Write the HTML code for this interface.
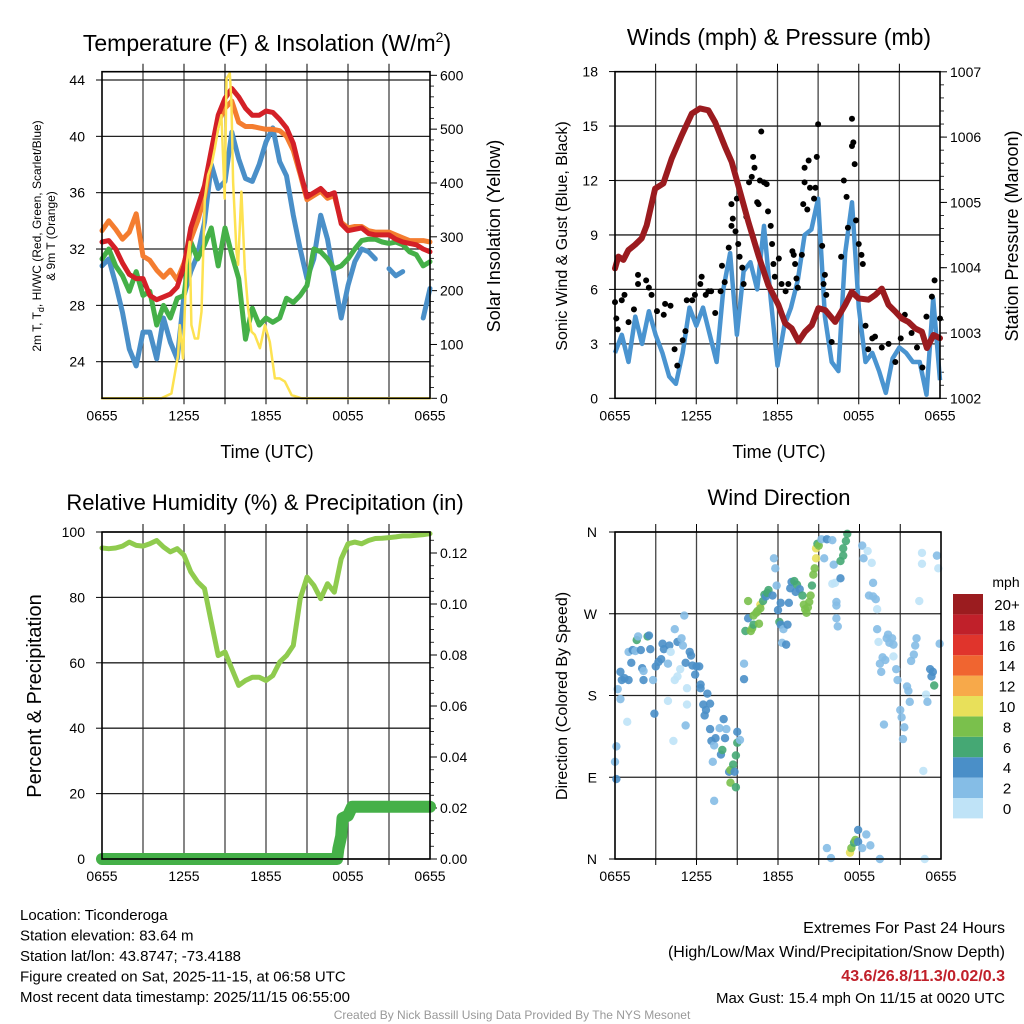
<!DOCTYPE html>
<html><head><meta charset="utf-8"><style>
html,body{margin:0;padding:0;background:#fff;}
svg{display:block;font-family:"Liberation Sans",sans-serif;}
</style></head><body>
<svg id="c" width="1024" height="1024" viewBox="0 0 1024 1024" xmlns="http://www.w3.org/2000/svg"></svg>
<script>
// ===== Data =====
const tickHours=[0,6,12,18,24];
const tickLabels=["0655","1255","1855","0055","0655"];
const halfHours=[0,0.5,1,1.5,2,2.5,3,3.5,4,4.5,5,5.5,6,6.5,7,7.5,8,8.5,9,9.5,10,10.5,11,11.5,12,12.5,13,13.5,14,14.5,15,15.5,16,16.5,17,17.5,18,18.5,19,19.5,20,20.5,21,21.5,22,22.5,23,23.5,24];
const tempRed=[32.5,32.6,32.0,31.0,30.2,29.9,29.9,28.7,28.4,28.6,28.8,29.3,30.8,33.5,35.0,36.5,39.0,41.5,42.7,43.4,42.8,42.0,41.5,41.5,41.8,41.7,41.2,40.6,39.5,37.5,35.7,36.0,36.3,35.8,36.0,33.8,33.3,33.4,33.5,33.1,33.0,33.0,33.0,32.7,32.5,32.4,32.3,32.0,31.8];
const tempOrange=[33.3,34.0,33.4,32.7,33.2,34.5,31.5,31.2,30.5,30.0,30.5,29.8,31.0,32.7,34.0,35.7,38.5,41.0,42.0,42.5,41.0,40.7,40.7,40.6,40.5,40.5,40.4,40.0,39.0,37.3,35.5,35.8,36.1,35.6,35.8,33.9,33.5,33.6,33.6,33.3,33.2,33.2,33.2,33.0,32.8,32.6,32.6,32.6,32.5];
const tempGreen=[31.3,32.0,30.8,30.1,29.0,30.4,28.7,29.0,26.6,28.0,27.1,28.5,28.7,32.5,31.3,32.3,33.5,30.8,33.5,31.6,29.9,25.6,27.8,26.6,27.1,26.8,27.1,28.5,28.2,28.7,29.4,32.0,31.8,31.3,30.6,30.8,31.3,32.0,32.6,32.7,32.7,32.5,32.4,32.5,32.3,31.8,31.6,30.8,31.1];
const tempBlue=[30.8,31.3,29.5,27.5,24.9,23.7,26.1,26.1,24.2,27.1,25.4,24.2,28.7,30.4,31.6,33.9,38.0,36.3,36.8,40.3,38.4,37.0,36.8,38.0,39.6,40.6,38.2,37.2,34.4,32.0,29.9,31.3,34.4,32.7,29.9,27.1,29.4,31.1,32.0,31.8,31.3,null,30.6,30.1,30.4,null,null,27.1,29.2];
const solarHours=[0,4.35,5.08,5.57,5.69,5.93,6.18,6.42,6.54,6.79,7.03,7.28,7.52,7.76,8.01,8.25,8.5,8.74,8.98,9.11,9.35,9.47,9.59,9.84,9.96,10.2,10.45,10.69,10.94,11.18,11.55,11.92,12.28,12.65,13.01,13.38,13.87,14.6,24];
const solarValues=[0,0,9,80,136,74,248,291,136,111,111,161,371,415,433,464,501,526,371,594,604,551,402,272,248,384,241,167,124,118,93,136,105,37,37,31,6,0,0];
const windSpeed=[2.5,3.5,2.0,4.5,3.0,4.8,3.5,2.5,1.2,0.8,2.5,5.0,4.0,5.0,3.5,2.0,6.0,8.0,3.5,7.0,7.5,6.0,9.5,5.5,1.8,4.0,5.0,6.5,9.0,9.3,11.0,4.5,2.0,1.5,8.0,10.8,5.0,2.0,2.5,1.5,0.3,2.2,2.8,2.5,2.0,2.0,0.2,5.5,1.0];
const gustHours=[0,0.1,0.2,0.5,0.7,1.0,1.4,1.7,1.7,2.3,2.5,2.7,3.1,3.6,3.7,4.1,4.4,4.6,5.0,5.2,5.3,5.7,5.9,6.3,6.4,6.7,6.9,7.1,7.4,7.8,7.9,8.1,8.4,8.6,8.6,8.7,8.9,9.0,9.1,9.2,9.4,9.5,9.7,9.9,10.1,10.2,10.3,10.5,10.6,10.7,10.8,11.0,11.2,11.3,11.5,11.6,11.7,11.8,12.1,12.3,12.6,12.8,13.1,13.2,13.3,13.4,13.5,13.8,13.9,14.0,14.0,14.2,14.3,14.4,14.7,14.8,14.9,15.0,15.3,15.4,15.5,15.6,16.0,16.7,16.9,17.1,17.2,17.5,17.5,17.6,17.7,17.8,18.0,18.2,18.3,18.5,18.7,19.0,19.2,19.7,20.2,20.7,21.1,21.4,21.9,22.3,22.7,23.0,23.4,23.6,24.0];
const gustValues=[5.3,4.4,3.8,5.4,5.7,4.2,4.9,6.3,6.8,6.5,6.1,5.7,4.8,4.6,5.2,5.1,2.7,1.8,3.2,3.7,5.4,5.4,5.7,6.3,6.7,5.7,5.9,5.9,4.7,5.9,7.3,6.4,8.3,9.5,10.7,9.9,9.2,11.0,8.5,7.8,7.2,6.3,10.0,11.9,12.2,13.3,12.7,10.8,10.7,12.0,14.7,11.9,11.8,10.3,9.5,8.5,7.4,6.7,7.7,6.3,5.9,6.3,8.1,7.9,7.4,6.6,6.1,7.9,10.7,12.7,11.9,10.4,13.1,11.6,11.0,11.6,13.3,15.1,8.4,6.3,6.8,5.7,3.1,7.8,12.0,11.1,9.4,13.9,15.4,14.1,12.9,9.8,8.5,7.9,7.4,4.0,2.7,3.3,3.4,2.8,3.0,2.0,3.3,4.6,3.6,2.8,1.7,4.5,5.6,6.5,4.4];
const pressHours=[0,0.25,0.62,0.99,1.48,1.97,2.34,2.96,3.57,4.19,4.93,5.67,6.28,6.9,7.39,8.13,8.62,9.24,9.85,10.59,11.33,12.07,12.56,13.05,13.55,14.04,14.53,15.02,15.52,16.26,17.0,17.49,17.98,18.72,19.21,19.7,20.2,20.69,21.18,21.67,22.17,22.66,23.03,23.52,24.0];
const pressValues=[1003.99,1004.17,1004.12,1004.27,1004.35,1004.45,1004.65,1005.21,1005.29,1005.67,1006.03,1006.36,1006.44,1006.41,1006.23,1005.85,1005.62,1005.16,1004.70,1004.19,1003.73,1003.43,1003.15,1003.07,1002.87,1003.02,1003.12,1003.38,1003.35,1003.17,1003.43,1003.63,1003.53,1003.51,1003.58,1003.68,1003.43,1003.33,1003.22,1003.17,1003.07,1003.02,1002.77,1002.97,1002.92];
const rhValues=[95.1,94.9,95.1,95.7,96.9,95.9,95.7,96.4,97.4,95.4,93.9,94.9,92.9,87.8,84.7,82.7,72.4,62.2,63.3,58.2,53.1,54.6,55.6,55.6,54.6,56.1,60.2,62.2,65.3,79.6,86.2,83.7,79.6,84.2,81.6,91.8,96.4,96.9,96.4,97.4,98.0,98.1,98.3,98.5,98.8,98.8,99.0,99.2,99.5];
const precipHours=[0,17.2,17.3,17.5,17.6,18.0,18.3,24];
const precipValues=[0,0,0.004,0.009,0.016,0.017,0.0205,0.0205];
const dirHours=[0.0,0.1,0.1,0.2,0.4,0.4,0.5,0.7,0.9,1.0,1.0,1.2,1.3,1.5,1.6,1.7,1.9,2.0,2.1,2.1,2.4,2.5,2.6,2.8,2.9,3.0,3.2,3.4,3.5,3.6,3.9,3.9,4.0,4.1,4.3,4.4,4.4,4.6,4.6,4.8,4.9,5.0,5.1,5.2,5.2,5.3,5.3,5.5,5.6,5.7,5.9,6.0,6.2,6.3,6.3,6.5,6.6,6.7,6.8,7.0,7.0,7.1,7.2,7.3,7.4,7.7,7.8,7.9,8.0,8.1,8.2,8.4,8.5,8.5,8.7,8.8,8.9,8.9,9.0,9.0,9.2,7.3,9.5,9.5,9.6,9.8,9.8,10.0,10.1,10.2,10.2,10.4,10.5,10.6,10.7,10.7,10.9,11.0,11.1,11.2,11.3,11.6,11.7,11.8,11.9,12.0,12.1,12.2,12.2,12.3,12.4,12.6,12.7,12.8,12.9,13.0,13.2,13.3,13.4,13.6,13.8,13.9,14.0,14.1,14.2,14.3,14.4,14.5,14.6,14.7,14.8,14.8,14.9,15.0,15.2,15.4,15.6,16.0,16.0,16.1,16.2,16.3,16.3,16.3,16.4,16.6,16.6,16.8,16.8,17.0,17.1,18.2,18.3,18.6,18.9,19.0,18.7,19.0,19.2,19.3,19.3,19.4,19.5,19.6,19.7,19.9,20.0,20.1,20.2,20.4,20.5,20.5,20.7,20.8,21.0,21.1,21.3,21.2,21.5,21.6,21.7,21.8,22.0,22.1,22.2,22.4,22.6,22.6,22.7,22.9,23.0,23.2,23.3,23.4,23.5,23.7,23.8,23.9,19.8,15.6,15.9,17.3,17.4,17.6,17.7,17.9,17.9,18.2,18.5,18.8,19.5,22.8];
const dirDegrees=[107,124,88,187,176,206,197,199,151,228,197,216,230,229,241,245,230,210,197,207,245,246,231,197,160,212,217,220,237,231,174,215,235,228,130,253,197,201,239,209,243,235,268,147,216,188,170,228,224,213,203,212,212,192,188,170,158,164,182,171,143,130,107,125,133,144,115,120,154,133,143,96,84,98,104,96,79,114,128,140,131,64,215,198,251,284,265,251,254,258,268,271,273,259,280,276,284,291,289,293,296,290,331,320,301,274,261,282,258,238,253,236,258,282,298,305,306,294,302,297,290,280,275,271,277,283,290,301,313,320,331,342,347,345,352,331,352,351,303,324,304,283,279,265,256,309,328,334,342,350,358,345,331,339,326,304,290,289,286,275,253,239,215,206,222,219,243,247,238,243,236,223,209,197,164,156,145,132,190,185,173,218,225,235,243,284,337,325,97,181,173,209,201,206,191,334,320,237,148,12,1,7,12,18,21,32,19,12,27,15,0,0];
const dirSpeeds=[3,3,5,3,3,5,5,5,1,3,5,5,5,3,7,3,5,5,5,3,7,5,5,3,5,5,5,5,5,5,1,3,5,1,1,3,1,1,5,1,3,3,3,3,5,1,1,5,5,5,5,5,5,5,5,5,5,5,5,5,5,5,3,3,5,3,5,7,5,5,3,5,9,9,7,5,7,7,7,5,3,3,3,5,7,9,5,9,9,7,9,9,9,9,11,9,7,7,5,7,7,5,3,3,3,5,7,5,5,3,3,5,5,5,5,5,7,5,7,5,7,9,9,9,9,9,9,7,9,9,11,11,7,9,3,3,5,3,1,3,1,3,3,3,3,5,7,7,7,7,7,3,3,1,1,3,3,3,3,1,3,1,3,3,3,3,3,3,3,3,3,1,3,3,3,3,3,3,3,3,3,3,3,3,3,1,1,1,1,1,3,5,5,5,7,3,1,3,3,3,3,11,9,7,9,5,5,3,3,3,3,1];
const speedBins=["0","2","4","6","8","10","12","14","16","18","20+"];
const speedColors=["#bfe3f7","#85bde6","#4a8fc8","#45a874","#7ac04c","#e8e05a","#f7a94a","#f06530","#e0342c","#c0202a","#9b1c1f"];

// ===== helpers =====
const NS="http://www.w3.org/2000/svg";
const svg=document.getElementById('c');
function mk(tag,attrs,parent){const e=document.createElementNS(NS,tag);for(const k in attrs)e.setAttribute(k,attrs[k]);(parent||svg).appendChild(e);return e;}
function txt(s,x,y,size,anchor,parent,extra){const t=mk('text',Object.assign({x:x,y:y,'font-size':size,'text-anchor':anchor||'middle',fill:'#000'},extra||{}),parent);t.textContent=s;return t;}
function poly(xs,ys,parent,style){let d='',pen=false;for(let i=0;i<xs.length;i++){if(ys[i]===null||ys[i]===undefined){pen=false;continue;}d+=(pen?'L':'M')+xs[i].toFixed(1)+' '+ys[i].toFixed(1);pen=true;}return mk('path',Object.assign({d:d,fill:'none','stroke-linejoin':'round','stroke-linecap':'round'},style),parent);}

function frame(g,L,R,T,B,xScale){
  for(let h=3;h<24;h+=3){const l=mk('line',{x1:xScale(h),x2:xScale(h),y1:T,y2:B,stroke:'#444','stroke-width':1.3},g);
    mk('line',{x1:xScale(h),x2:xScale(h),y1:T-8,y2:T,stroke:'#000','stroke-width':1},g);mk('line',{x1:xScale(h),x2:xScale(h),y1:B,y2:B+6,stroke:'#000','stroke-width':1},g);}
  tickHours.forEach((h,i)=>{const t=txt(tickLabels[i],xScale(h),B+22,14,'middle',g);});
}
function hgrid(g,L,R,y){const l=mk('line',{x1:L,x2:R,y1:y,y2:y,stroke:'#222','stroke-width':1.3},g);}
function box(g,L,R,T,B){const r=mk('rect',{x:L,y:T,width:R-L,height:B-T,fill:'none',stroke:'#000','stroke-width':1.6},g);}

// ===== Panel 1: temperature =====
(function(){
  const g=mk('g',{});
  const L=102,R=430,T=71.7,B=398.3;
  const x=h=>L+h*(R-L)/24, yL=t=>361.7-(t-24)*14.085, yR=w=>B-w*0.5383;
  frame(g,L,R,T,B,x);
  [24,28,32,36,40,44].forEach(v=>{hgrid(g,L,R,yL(v));mk('line',{x1:L-6,x2:L,y1:yL(v),y2:yL(v),stroke:'#000'},g);const t=txt(String(v),85,yL(v)+5,14,'end',g);});
  [0,100,200,300,400,500,600].forEach(v=>{mk('line',{x1:R,x2:R+7,y1:yR(v),y2:yR(v),stroke:'#000'},g);const t=txt(String(v),440,yR(v)+5,14,'start',g);});
  for(let v=20;v<600;v+=20){if(v%100)mk('line',{x1:R,x2:R+4,y1:yR(v),y2:yR(v),stroke:'#000','stroke-width':0.8},g);}
  const xs=halfHours.map(x);
  let p=poly(xs,tempBlue.map(v=>v===null?null:yL(v)),g,{stroke:'#4a8fc8','stroke-width':5});
  p=poly(xs,tempGreen.map(yL),g,{stroke:'#45b048','stroke-width':5});
  p=poly(xs,tempOrange.map(yL),g,{stroke:'#f47d30','stroke-width':5});
  p=poly(xs,tempRed.map(yL),g,{stroke:'#d42027','stroke-width':5});
  p=poly(solarHours.map(x),solarValues.map(yR),g,{stroke:'#fde251','stroke-width':2.5});
  box(g,L,R,T,B);
  const ti=txt('',267,51,23,'middle',g);
  ti.innerHTML='Temperature (F) &amp; Insolation (W/m<tspan dy="-9" font-size="14">2</tspan><tspan dy="9">)</tspan>';
  let t=txt('Time (UTC)',267,458,18,'middle',g);
  t=txt('',0,0,12,'middle',g,{transform:'translate(41,236) rotate(-90)'});
  t.innerHTML='2m T, T<tspan dy="3" font-size="9">d</tspan><tspan dy="-3">, HI/WC (Red, Green, Scarlet/Blue)</tspan>';
  t=txt('& 9m T (Orange)',0,0,12,'middle',g,{transform:'translate(55,236) rotate(-90)'});
  t=txt('Solar Insolation (Yellow)',0,0,18,'middle',g,{transform:'translate(500,236) rotate(-90)'});
})();

// ===== Panel 2: winds & pressure =====
(function(){
  const g=mk('g',{});
  const L=615,R=940,T=71.7,B=398.3;
  const x=h=>L+h*(R-L)/24, yL=s=>B-s*18.15, yR=p=>B-(p-1002)*65.3;
  frame(g,L,R,T,B,x);
  [0,3,6,9,12,15,18].forEach(v=>{hgrid(g,L,R,yL(v));mk('line',{x1:L-6,x2:L,y1:yL(v),y2:yL(v),stroke:'#000'},g);const t=txt(String(v),598,yL(v)+5,14,'end',g);});
  [1002,1003,1004,1005,1006,1007].forEach(v=>{mk('line',{x1:R,x2:R+7,y1:yR(v),y2:yR(v),stroke:'#000'},g);const t=txt(String(v),950,yR(v)+5,14,'start',g);});
  for(let v=1002.2;v<1007;v+=0.2){mk('line',{x1:R,x2:R+4,y1:yR(v),y2:yR(v),stroke:'#000','stroke-width':0.8},g);}
  let p=poly(halfHours.map(x),windSpeed.map(yL),g,{stroke:'#4a94d0','stroke-width':4.5,'stroke-linecap':'butt'});
  gustHours.forEach((h,i)=>{const c=mk('circle',{cx:x(h),cy:yL(gustValues[i]),r:3,fill:'#000'},g);});
  p=poly(pressHours.map(x),pressValues.map(yR),g,{stroke:'#9b1b1f','stroke-width':6});
  box(g,L,R,T,B);
  let t=txt('Winds (mph) & Pressure (mb)',779,45,23,'middle',g);
  t=txt('Time (UTC)',779,458,18,'middle',g);
  t=txt('Sonic Wind & Gust (Blue, Black)',0,0,16,'middle',g,{transform:'translate(567,236) rotate(-90)'});
  t=txt('Station Pressure (Maroon)',0,0,18,'middle',g,{transform:'translate(1018,236) rotate(-90)'});
})();

// ===== Panel 3: RH & precipitation =====
(function(){
  const g=mk('g',{});
  const L=102,R=430,T=532,B=859;
  const x=h=>L+h*(R-L)/24, yL=v=>B-v*3.27, yR=v=>B-v*2550;
  frame(g,L,R,T,B,x);
  [0,20,40,60,80,100].forEach(v=>{hgrid(g,L,R,yL(v));mk('line',{x1:L-6,x2:L,y1:yL(v),y2:yL(v),stroke:'#000'},g);const t=txt(String(v),85,yL(v)+5,14,'end',g);});
  [0,0.02,0.04,0.06,0.08,0.10,0.12].forEach(v=>{mk('line',{x1:R,x2:R+7,y1:yR(v),y2:yR(v),stroke:'#000'},g);const t=txt(v.toFixed(2),440,yR(v)+5,14,'start',g);});
  for(let v=0.005;v<0.128;v+=0.005){mk('line',{x1:R,x2:R+4,y1:yR(v),y2:yR(v),stroke:'#000','stroke-width':0.8},g);}
  let p=poly(halfHours.map(x),rhValues.map(yL),g,{stroke:'#8fcb4e','stroke-width':5});
  p=poly(precipHours.map(x),precipValues.map(yR),g,{stroke:'#45b048','stroke-width':12});
  box(g,L,R,T,B);
  let t=txt('Relative Humidity (%) & Precipitation (in)',265,510,22,'middle',g);
  t=txt('Percent & Precipitation',0,0,20,'middle',g,{transform:'translate(41,696) rotate(-90)'});
})();

// ===== Panel 4: wind direction =====
(function(){
  const g=mk('g',{});
  const L=615,R=941,T=532,B=859;
  const x=h=>L+h*(R-L)/24, y=d=>B-d*(B-T)/360;
  frame(g,L,R,T,B,x);
  const dl=['N','E','S','W','N'];
  [0,90,180,270,360].forEach((v,i)=>{hgrid(g,L,R,y(v));mk('line',{x1:L-6,x2:L,y1:y(v),y2:y(v),stroke:'#000'},g);const t=txt(dl[i],597,y(v)+5,14,'end',g);});
  dirHours.forEach((h,i)=>{const bin=Math.min(10,Math.floor(dirSpeeds[i]/2));const c=mk('circle',{cx:x(h),cy:y(dirDegrees[i]),r:4.2,fill:speedColors[bin],'fill-opacity':0.9},g);});
  box(g,L,R,T,B);
  let t=txt('Wind Direction',779,505,22,'middle',g);
  t=txt('Direction (Colored By Speed)',0,0,16,'middle',g,{transform:'translate(567,696) rotate(-90)'});
  const lg=mk('g',{},g);
  t=txt('mph',1006,587,14,'middle',lg);
  speedBins.forEach((s,i)=>{const top=594+(10-i)*20.4;const r=mk('rect',{x:953,y:top,width:30,height:20.4,fill:speedColors[i]},lg);
    const tt=txt(s,1007,top+16,15,'middle',lg);});
})();

// ===== footer text =====
(function(){
  const g=mk('g',{});
  const lines=['Location: Ticonderoga','Station elevation: 83.64 m','Station lat/lon: 43.8747; -73.4188','Figure created on Sat, 2025-11-15, at 06:58 UTC','Most recent data timestamp: 2025/11/15 06:55:00'];
  lines.forEach((s,i)=>{const t=txt(s,20,920+i*20.5,15,'start',g);});
  const g2=mk('g',{});
  let t=txt('Extremes For Past 24 Hours',1005,933,16,'end',g2);
  t=txt('(High/Low/Max Wind/Precipitation/Snow Depth)',1005,957,16,'end',g2);
  t=txt('43.6/26.8/11.3/0.02/0.3',1005,981,16,'end',g2,{fill:'#c0202a','font-weight':'bold'});
  t=txt('Max Gust: 15.4 mph On 11/15 at 0020 UTC',1005,1003,15,'end',g2);
  t=txt('Created By Nick Bassill Using Data Provided By The NYS Mesonet',512,1019,12,'middle',null,{fill:'#999'});
})();
</script>
</body></html>
